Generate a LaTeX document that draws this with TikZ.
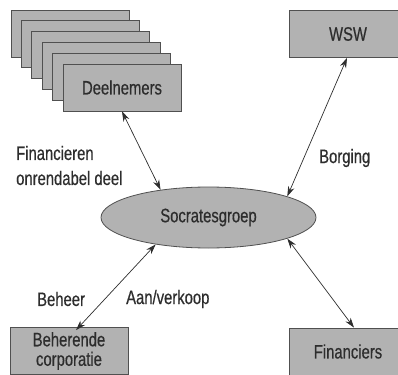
\documentclass[tikz,border=0pt]{standalone}
\usepackage{fontspec}
\setmainfont{Liberation Sans}[FakeStretch=0.76,FakeBold=0.5]
\usetikzlibrary{arrows.meta,shapes.geometric}
\definecolor{boxfill}{RGB}{178,178,178}
\definecolor{boxline}{RGB}{80,80,80}
\definecolor{ink}{RGB}{45,45,45}
\begin{document}
\begin{tikzpicture}[x=1pt,y=-1pt,
  box/.style={draw=boxline, fill=boxfill, line width=0.8pt, minimum width=118pt, minimum height=47pt, inner sep=0pt, text=ink, align=center},
  lbl/.style={text=ink, inner sep=0pt, anchor=west},
  link/.style={draw=ink, line width=0.7pt, {Stealth[length=10pt,width=6.5pt]}-{Stealth[length=10pt,width=6.5pt]}},
  font=\fontsize{19.5}{19.5}\selectfont]
\useasboundingbox (0,0) rectangle (398,374);
\clip (0,0) rectangle (398,374);
% stack of participants
\node[box] (d0) at (70,33.5) {};
\node[box] (d1) at (80.4,44.3) {};
\node[box] (d2) at (90.8,55.1) {};
\node[box] (d3) at (101.2,65.9) {};
\node[box] (d4) at (111.6,76.7) {};
\node[box] (deel) at (122,87.5) {Deelnemers};
% other boxes
\node[box] (wsw) at (348,34) {WSW};
\node[box] (beh) at (69,351) {Beherende\\corporatie};
\node[box] (fin) at (348,351.5) {Financiers};
% ellipse
\node[ellipse, draw=boxline, fill=boxfill, line width=0.8pt, minimum width=215pt, minimum height=61pt, inner sep=0pt, text=ink] (sg) at (208.5,217.5) {Socratesgroep};
% labels
\node[lbl] (l1) at (16,153) {Financieren};
\node[lbl] (l2) at (16,178) {onrendabel deel};
\node[lbl] (l3) at (319,158) {Borging};
\node[lbl] (l4) at (37,299) {Beheer};
\node[lbl] (l5) at (126,299) {Aan/verkoop};
% connectors
\draw[link] (deel.south) -- (sg.150);
\draw[link] ([xshift=-1pt]wsw.south) -- (sg.15);
\draw[link] ([xshift=7pt,yshift=-3pt]beh.north) -- (sg.207);
\draw[link] ([xshift=6pt]fin.north) -- (sg.-15);
\end{tikzpicture}
\end{document}
